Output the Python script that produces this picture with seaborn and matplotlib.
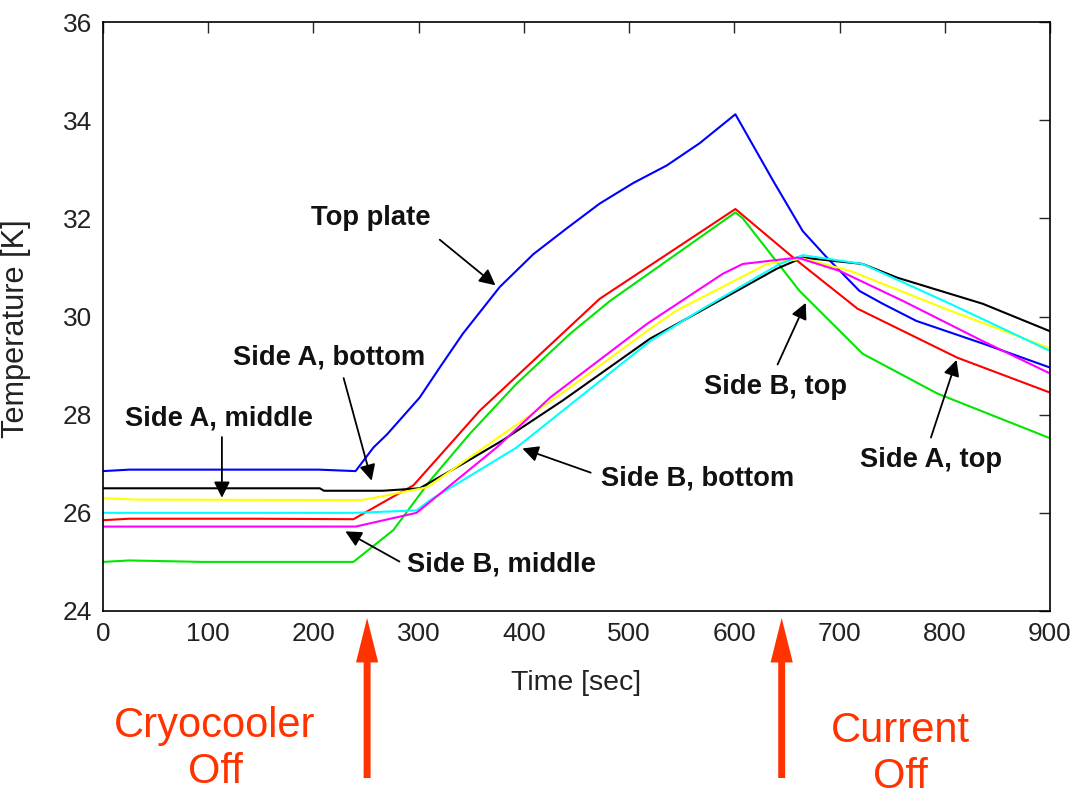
import pandas as pd
import matplotlib
matplotlib.use('Agg')
import matplotlib.pyplot as plt
from matplotlib import font_manager
import seaborn as sns

# per sensor (time [sec], temperature [K])
t_top = [0, 25, 205, 240, 257, 270, 301, 320, 342, 377, 409, 441, 472, 504, 536, 567, 601, 637, 665, 688, 719, 741, 773, 836, 900]
T_top = [26.85, 26.88, 26.88, 26.85, 27.33, 27.6, 28.35, 28.96, 29.65, 30.6, 31.27, 31.8, 32.3, 32.72, 33.08, 33.53, 34.12, 32.76, 31.74, 31.2, 30.52, 30.26, 29.91, 29.45, 28.96]

t_red = [0, 25, 146, 238, 270, 295, 327, 358, 406, 472, 601, 656, 717, 812, 900]
T_red = [25.85, 25.88, 25.88, 25.87, 26.26, 26.56, 27.33, 28.08, 29.04, 30.36, 32.19, 31.2, 30.16, 29.16, 28.45]

t_green = [0, 25, 95, 238, 276, 311, 349, 393, 444, 482, 601, 608, 662, 722, 793, 900]
T_green = [25.0, 25.03, 25.0, 25.0, 25.65, 26.66, 27.62, 28.63, 29.65, 30.32, 32.12, 32.0, 30.52, 29.24, 28.43, 27.52]

t_black = [0, 206, 210, 266, 301, 342, 380, 437, 520, 567, 640, 665, 722, 755, 836, 900]
T_black = [26.5, 26.5, 26.45, 26.45, 26.5, 27.0, 27.48, 28.29, 29.55, 30.1, 30.97, 31.2, 31.07, 30.79, 30.26, 29.7]

t_yellow = [0, 30, 246, 266, 308, 380, 437, 520, 545, 631, 665, 710, 805, 900]
T_yellow = [26.3, 26.27, 26.26, 26.34, 26.52, 27.6, 28.45, 29.75, 30.12, 31.07, 31.18, 30.93, 30.12, 29.35]

t_cyan = [0, 240, 298, 311, 393, 520, 567, 643, 665, 722, 805, 900]
T_cyan = [26.0, 26.0, 26.05, 26.26, 27.33, 29.5, 30.12, 31.07, 31.25, 31.07, 30.26, 29.3]

t_magenta = [0, 240, 298, 374, 425, 517, 536, 589, 608, 660, 700, 760, 836, 900]
T_magenta = [25.72, 25.72, 26.0, 27.33, 28.35, 29.85, 30.12, 30.87, 31.07, 31.2, 30.93, 30.32, 29.5, 28.84]

series = {
    'blue': (t_top, T_top),
    'red': (t_red, T_red),
    'green': (t_green, T_green),
    'black': (t_black, T_black),
    'yellow': (t_yellow, T_yellow),
    'cyan': (t_cyan, T_cyan),
    'magenta': (t_magenta, T_magenta),
}
palette = {'blue': '#0000ff', 'red': '#ff0000', 'green': '#00e600', 'black': '#000000',
           'yellow': '#ffff00', 'cyan': '#00ffff', 'magenta': '#ff00ff'}

rows = []
for name, (ts, Ts) in series.items():
    for i in range(len(ts)):
        rows.append({'line': name, 'time': ts[i], 'temp': Ts[i]})
df = pd.DataFrame(rows)

# labels: (text, text pos, arrow tail, arrow head)
labels = [
    ('Top plate', (254, 32.0), (318, 31.6), (375, 30.6)),
    ('Side A, bottom', (215, 29.17), (228, 28.8), (256, 26.6)),
    ('Side A, middle', (110, 27.93), (113, 27.6), (113, 26.25)),
    ('Side B, middle', (379, 24.94), (284, 24.98), (228, 25.65)),
    ('Side B, bottom', (565, 26.7), (466, 26.8), (396, 27.33)),
    ('Side B, top', (639, 28.57), (640, 28.97), (669, 30.33)),
    ('Side A, top', (787, 27.07), (786, 27.48), (812, 29.17)),
]

sns.set_style('white')
names = [f.name for f in font_manager.fontManager.ttflist]
if 'Liberation Sans Narrow' in names:
    fam, k = 'Liberation Sans Narrow', 1.0
else:
    fam, k = 'Liberation Sans', 0.82
plt.rcParams['font.family'] = [fam, 'DejaVu Sans']

fig = plt.figure(figsize=(10.76, 7.99), dpi=100)
ax = fig.add_axes([103 / 1076, 1 - 611 / 799, 947 / 1076, 589 / 799])

sns.lineplot(data=df, x='time', y='temp', hue='line', palette=palette, units='line',
             estimator=None, sort=False, legend=False, lw=1.5, ax=ax)

ax.set_xlim(0, 900)
ax.set_ylim(24, 36)
ax.set_xticks(range(0, 901, 100))
ax.set_yticks(range(24, 37, 2))
ax.tick_params(direction='in', length=8, width=1, top=True, right=True,
               labelsize=23 * k, labelcolor='#222222', pad=8)
for s in ax.spines.values():
    s.set_color('black')
    s.set_linewidth(1.2)
ax.set_xlabel('Time [sec]', fontsize=25 * k, color='#222222')
ax.set_ylabel('Temperature [K]', fontsize=27 * k, color='#222222')
ax.xaxis.set_label_coords(0.5, -0.1)
ax.yaxis.set_label_coords(-0.076, 0.48)

for txt, pos, tail, head in labels:
    ax.text(pos[0], pos[1], txt, ha='center', va='center', fontsize=24 * k,
            fontweight='bold', color='#111111')
    ax.annotate('', xy=head, xytext=tail,
                arrowprops=dict(arrowstyle='-|>', color='black', lw=1.3, mutation_scale=24))

orange = '#ff3300'
for tx in [251, 645]:
    ax.annotate('', xy=(tx, 1 - 618 / 799), xytext=(tx, 1 - 778 / 799),
                xycoords=('data', 'figure fraction'), textcoords=('data', 'figure fraction'),
                arrowprops=dict(facecolor=orange, edgecolor='none', width=5, headwidth=16,
                                headlength=32, shrink=0))

fig.text(215 / 1076, 1 - 749 / 799, 'Cryocooler\nOff', ha='center', va='center',
         fontsize=30, color=orange, family='Liberation Sans', linespacing=1.22)
fig.text(900 / 1076, 1 - 754 / 799, 'Current\nOff', ha='center', va='center',
         fontsize=30, color=orange, family='Liberation Sans', linespacing=1.22)

fig.savefig('out.png', dpi=100, facecolor='white')
